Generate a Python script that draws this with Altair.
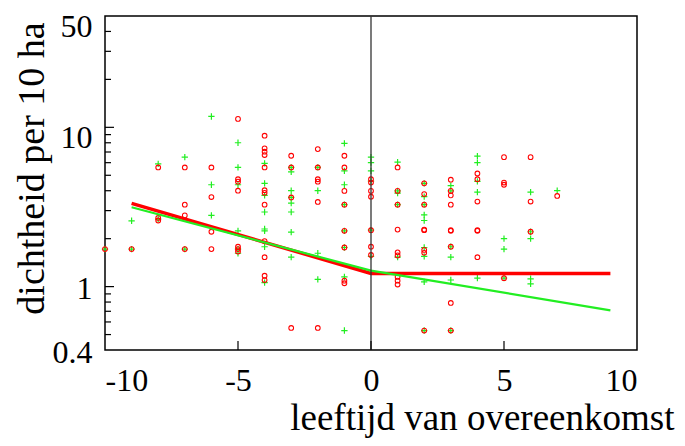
import altair as alt
import pandas as pd

# ---- data ----
red_by_age = {
    -10: [1.72],
    -9: [1.72],
    -8: [5.6, 2.7, 2.6],
    -7: [5.6, 3.27, 2.8, 1.72],
    -6: [5.6, 3.65, 2.21, 1.72],
    -5: [11.3, 4.72, 4.56, 4.0, 1.78, 1.72, 1.66],
    -4: [8.86, 7.38, 7.03, 6.70, 5.6, 4.03, 3.88, 3.27, 1.93, 1.53, 1.17, 1.10],
    -3: [6.63, 5.6, 3.63, 0.55],
    -2: [7.3, 5.6, 4.72, 4.56, 3.4, 0.55],
    -1: [6.63, 5.6, 3.99, 3.27, 2.24, 1.76, 1.09, 1.05],
    0: [4.72, 4.5, 3.99, 3.67, 2.26, 1.78, 1.58],
    1: [5.6, 3.99, 3.27, 2.28, 1.64, 1.57, 1.15, 1.09, 1.03],
    2: [4.45, 3.81, 3.27, 2.28, 2.26, 1.70, 1.63, 0.53],
    3: [4.69, 3.99, 3.74, 3.27, 2.26, 2.24, 1.78, 0.79, 0.53],
    4: [5.13, 4.72, 3.42, 2.26, 2.24, 1.53],
    5: [6.5, 4.5, 4.36, 1.13],
    6: [6.5, 3.42, 2.21],
    7: [3.71],
}
green_by_age = {
    -10: [1.72],
    -9: [2.59, 1.72],
    -8: [5.9, 2.65],
    -7: [6.5, 1.72],
    -6: [11.7, 4.36, 2.8],
    -5: [8.0, 5.6, 4.36, 2.24, 1.72, 1.62],
    -4: [5.94, 4.45, 3.74, 2.94, 2.3, 2.24, 1.78, 1.06],
    -3: [5.6, 5.25, 4.0, 3.63, 3.34, 2.94, 2.2, 1.53],
    -2: [5.6, 4.0, 1.62, 1.11],
    -1: [7.94, 5.33, 4.36, 3.27, 2.24, 1.76, 1.15, 0.53],
    0: [6.5, 6.0, 5.33, 4.6, 2.26, 1.55],
    1: [6.05, 3.99, 3.86, 3.27, 1.53],
    2: [4.45, 3.67, 3.27, 2.82, 2.6, 1.76, 1.55, 1.07, 0.53],
    3: [4.3, 3.99, 1.78, 1.53, 1.10, 0.53],
    4: [6.6, 6.0, 4.58, 3.92, 1.13],
    5: [2.0, 1.72, 1.13],
    6: [3.92, 2.21, 2.0, 1.12, 1.04],
    7: [4.0],
}
red_line_x = [-9, 0, 9]
red_line_y = [3.33, 1.21, 1.21]
green_line_x = [-9, 0, 9]
green_line_y = [3.15, 1.26, 0.71]

x_ticks = [-10, -5, 0, 5, 10]
x_inner_ticks = [-5, 0, 5]
y_labels = [0.4, 1, 10, 50]
y_major = [1, 10]
y_minor = [0.5, 0.6, 0.7, 0.8, 0.9, 2, 3, 4, 5, 6, 7, 8, 9, 20, 30, 40]

RED = "#ff0000"
GREEN = "#22ee22"
FONT = "Liberation Serif"
W, H = 532, 334

red_df = pd.DataFrame([(a, v) for a, vs in red_by_age.items() for v in vs], columns=["age", "dens"])
green_df = pd.DataFrame([(a, v) for a, vs in green_by_age.items() for v in vs], columns=["age", "dens"])
rline = pd.DataFrame({"age": red_line_x, "dens": red_line_y})
gline = pd.DataFrame({"age": green_line_x, "dens": green_line_y})

xs = alt.Scale(domain=[-10, 10], nice=False)
ys = alt.Scale(type="log", domain=[0.4, 50], nice=False)

x_axis = alt.Axis(values=x_ticks, labelExpr="'' + datum.value", labelFontSize=32,
                  labelFont=FONT, labelColor="black", tickSize=0, domain=False, grid=False,
                  labelPadding=15, title="leeftijd van overeenkomst", titleFont=FONT,
                  titleFontSize=37, titleFontWeight="normal", titleColor="black",
                  titleAlign="right", titleX=569, titleY=79, titleBaseline="alphabetic")
y_axis = alt.Axis(values=y_labels, labelExpr="'' + datum.value", labelFontSize=32,
                  labelFont=FONT, labelColor="black", tickSize=0, domain=False, grid=False,
                  labelPadding=13,
                  labelOffset={"condition": {"test": "datum.value <= 1", "value": 2}, "value": 10},
                  title="dichtheid per 10 ha", titleFont=FONT,
                  titleFontSize=38, titleFontWeight="normal", titleColor="black",
                  titleAngle=270, titleAlign="center", titleX=-62, titleY=152,
                  titleBaseline="alphabetic")

plus_shape = "M-1,0L1,0M0,-1L0,1"

X = alt.X("age:Q", scale=xs)
Y = alt.Y("dens:Q", scale=ys)

green_pts = alt.Chart(green_df).mark_point(shape=plus_shape, filled=False, color=GREEN,
                                           size=40, strokeWidth=1.2, opacity=1).encode(
    x=alt.X("age:Q", scale=xs, axis=x_axis),
    y=alt.Y("dens:Q", scale=ys, axis=y_axis),
)
red_pts = alt.Chart(red_df).mark_point(shape="circle", filled=False, color=RED,
                                       size=22, strokeWidth=1.1, opacity=1).encode(x=X, y=Y)
red_ln = alt.Chart(rline).mark_line(color=RED, strokeWidth=3.5).encode(x=X, y=Y)
green_ln = alt.Chart(gline).mark_line(color=GREEN, strokeWidth=2.2).encode(x=X, y=Y)
zero = alt.Chart(pd.DataFrame({"age": [0]})).mark_rule(color="#333333", strokeWidth=1.3).encode(x=X)
ymaj = alt.Chart(pd.DataFrame({"dens": y_major})).mark_rule(color="black", strokeWidth=1.2).encode(
    y=Y, x=alt.value(0), x2=alt.value(9),
)
ymin = alt.Chart(pd.DataFrame({"dens": y_minor})).mark_rule(color="black", strokeWidth=1.2).encode(
    y=Y, x=alt.value(0), x2=alt.value(6),
)
xtk = alt.Chart(pd.DataFrame({"age": x_inner_ticks})).mark_rule(color="black", strokeWidth=1.2).encode(
    x=X, y=alt.value(H), y2=alt.value(H - 9),
)

chart = alt.layer(green_pts, red_pts, red_ln, green_ln, zero, ymaj, ymin, xtk).properties(
    width=W, height=H,
    padding={"left": 97, "top": 8, "right": 40, "bottom": 88},
    autosize=alt.AutoSizeParams(type="none"),
).configure(font=FONT, background="white").configure_view(stroke="black", strokeWidth=1.5)

chart.save("out.html", embed_options={"renderer": "svg", "actions": False})
